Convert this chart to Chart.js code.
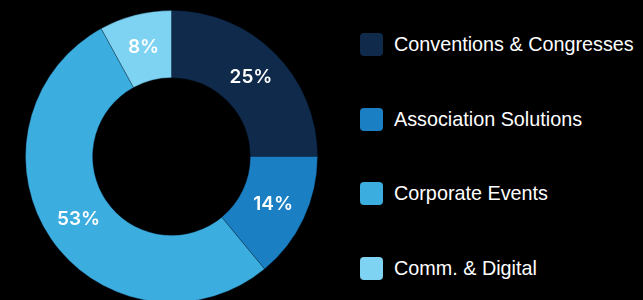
<!DOCTYPE html>
<html>
<head>
<meta charset="utf-8">
<script src="https://cdn.jsdelivr.net/npm/chart.js@4.4.1/dist/chart.umd.min.js"></script>
<style>
  html, body { margin: 0; padding: 0; background: #000; overflow: hidden; }
  body { width: 643px; height: 300px; position: relative; }
  #wrap { position: absolute; left: 0; top: 0; width: 343px; height: 313px; }
  #legend { position: absolute; left: 360px; top: 33px; margin: 0; padding: 0; list-style: none; }
  #legend li { display: flex; align-items: center; height: 23px; margin-bottom: 51.7px;
    font-family: "Liberation Sans", Arial, sans-serif; font-size: 19.8px; color: #fff; white-space: nowrap; }
  #legend span.box { display: inline-block; width: 23px; height: 23px; border-radius: 4px; margin-right: 11px; }
</style>
</head>
<body>
<div id="wrap"><canvas id="mixChart"></canvas></div>
<ul id="legend"></ul>
<script>
// revenue mix
const categories = ['Conventions & Congresses', 'Association Solutions', 'Corporate Events', 'Comm. & Digital'];
const shares = [25, 14, 53, 8];
const colors = ['#0f2a4b', '#1b80c3', '#3badde', '#7dd3f1'];

// percent labels in the middle of each slice
const sliceLabels = {
  id: 'sliceLabels',
  afterDatasetsDraw(chart) {
    const ctx = chart.ctx;
    const meta = chart.getDatasetMeta(0);
    ctx.save();
    ctx.fillStyle = '#fff';
    ctx.font = '600 19px Inter, "Open Sans", sans-serif';
    ctx.textAlign = 'center';
    ctx.textBaseline = 'middle';
    meta.data.forEach((arc, i) => {
      const p = arc.tooltipPosition();
      ctx.fillText(shares[i] + '%', p.x, p.y);
    });
    ctx.restore();
  }
};

const ctx = document.getElementById('mixChart').getContext('2d');
const mixChart = new Chart(ctx, {
  type: 'doughnut',
  data: {
    labels: categories,
    datasets: [{
      data: shares,
      backgroundColor: colors,
      borderColor: 'rgba(5,30,55,0.35)',
      borderWidth: 1
    }]
  },
  options: {
    responsive: true,
    maintainAspectRatio: false,
    animation: false,
    cutout: '54%',
    layout: { padding: 10 },
    plugins: {
      legend: { display: false },
      tooltip: { enabled: false }
    }
  },
  plugins: [sliceLabels]
});

// legend built from the same arrays
const legend = document.getElementById('legend');
categories.forEach((name, i) => {
  const li = document.createElement('li');
  const box = document.createElement('span');
  box.className = 'box';
  box.style.background = colors[i];
  li.appendChild(box);
  li.appendChild(document.createTextNode(name));
  legend.appendChild(li);
});
</script>
</body>
</html>
